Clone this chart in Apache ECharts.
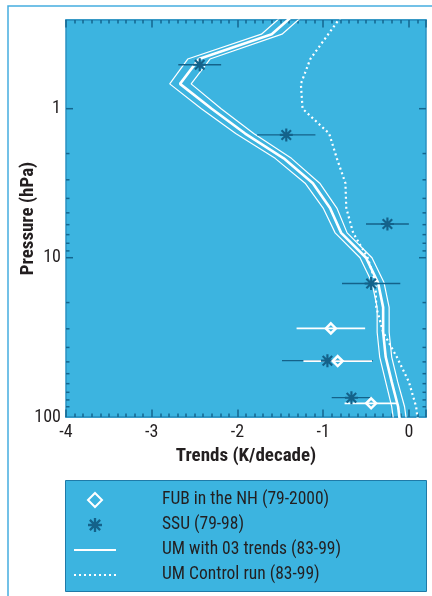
<!DOCTYPE html>
<html>
<head>
<meta charset="utf-8">
<script src="https://cdn.jsdelivr.net/npm/echarts@6/dist/echarts.min.js"></script>
<style>
  html, body { margin: 0; padding: 0; background: #ffffff; }
  #chart { width: 432px; height: 596px; }
</style>
</head>
<body>
<div id="chart"></div>
<script>
// Model pressure levels (hPa) shared by both UM runs
const umPressure = [0.2154, 0.3162, 0.4642, 0.6813, 1, 1.468, 2.154, 3.162, 4.642, 6.813, 10, 14.68, 21.54, 31.62, 46.42, 68.13, 100, 146.8];
// UM run with ozone trends: mean and its lower / upper bounds (K/decade)
const umTrend = [-1.27, -1.60, -2.45, -2.67, -2.30, -1.91, -1.46, -1.12, -0.92, -0.79, -0.50, -0.36, -0.30, -0.30, -0.27, -0.20, -0.125, -0.09];
const umLow   = [-1.39, -1.72, -2.58, -2.79, -2.42, -2.02, -1.56, -1.21, -1.00, -0.86, -0.57, -0.43, -0.37, -0.37, -0.34, -0.27, -0.20, -0.16];
const umHigh  = [-1.15, -1.48, -2.32, -2.54, -2.19, -1.81, -1.37, -1.04, -0.84, -0.72, -0.43, -0.29, -0.23, -0.23, -0.20, -0.13, -0.05, -0.01];
// UM control run (K/decade)
const controlTrend = [-0.73, -0.94, -1.15, -1.26, -1.24, -0.93, -0.84, -0.74, -0.73, -0.65, -0.48, -0.39, -0.38, -0.30, -0.14, 0.00, 0.085, 0.12];

// SSU observations (79-98)
const ssuPressure = [0.507, 1.50, 5.94, 14.9, 49.1, 87.0];
const ssuTrend    = [-2.44, -1.43, -0.25, -0.44, -0.95, -0.67];
const ssuError    = [0.25, 0.34, 0.25, 0.34, 0.53, 0.23];

// FUB analyses, northern hemisphere (79-2000)
const fubPressure = [29.8, 49.4, 94.9];
const fubTrend    = [-0.91, -0.83, -0.44];
const fubError    = [0.40, 0.40, 0.31];

// Axis ranges and ticks
const X_MIN = -4, X_MAX = 0.2;
const Y_MIN = 0.254, Y_MAX = 117.2;
const yMajorTicks = [1, 10];
const yMinorTicks = [2, 3, 4, 5, 6, 7, 8, 9, 20, 30, 40, 50, 60, 70, 80, 90, 100];
const yLabelText = { '1': '1', '10': '10' };
const yBottomLabel = '100';

const names = {
  fub: 'FUB in the NH (79-2000)',
  ssu: 'SSU (79-98)',
  um: 'UM with 03 trends (83-99)',
  ctl: 'UM Control run (83-99)'
};

const BG = '#3cb4e0';
const TICK = '#14668f';
const AXIS = '#2b92c2';
const TEXT = '#231f20';
const DARK = '#14628a';
const FONT = "'Roboto Condensed', 'Liberation Sans', sans-serif";

const asteriskPath = 'path://M0 10H24V14H0Z M10 0H14V24H10Z M1.8 4.6L4.6 1.8L22.2 19.4L19.4 22.2Z M19.4 1.8L22.2 4.6L4.6 22.2L1.8 19.4Z';
const diamondPath = 'path://M12 0L24 12L12 24L0 12Z';

const pairs = (xs, ys) => xs.map((x, i) => [x, ys[i]]);

function errorBarSeries(name, trend, err, pres, color, width, z) {
  return {
    name: name, type: 'custom', silent: true, z: z,
    xAxisIndex: 0, yAxisIndex: 0,
    encode: { x: 0, y: 1 },
    data: trend.map((t, i) => [t, pres[i], err[i]]),
    renderItem: function (params, api) {
      const t = api.value(0), p = api.value(1), e = api.value(2);
      const a = api.coord([t - e, p]);
      const b = api.coord([t + e, p]);
      return { type: 'line', shape: { x1: a[0], y1: a[1], x2: b[0], y2: b[1] },
               style: { stroke: color, lineWidth: width } };
    }
  };
}

function xAxisDef(position, interval, tickLen, labels) {
  return {
    type: 'value', position: position, min: X_MIN, max: X_MAX, interval: interval,
    axisLine: { show: true, onZero: false, lineStyle: { color: AXIS, width: 1.5 } },
    axisTick: { show: true, inside: true, length: tickLen, lineStyle: { color: TICK, width: 1.5 } },
    axisLabel: labels ? {
      show: true, color: TEXT, fontFamily: FONT, fontSize: 18, margin: 6,
      formatter: v => (Math.abs(v - Math.round(v)) < 1e-6 ? String(Math.round(v)) : '')
    } : { show: false },
    splitLine: { show: false },
    name: labels ? 'Trends (K/decade)' : '',
    nameLocation: 'middle', nameGap: 30, nameMoveOverlap: false,
    nameTextStyle: { color: TEXT, fontFamily: FONT, fontSize: 19, fontWeight: 'bold' }
  };
}

function yAxisDef(position, labels) {
  return {
    type: 'log', logBase: 10, position: position, min: Y_MIN, max: Y_MAX, inverse: true,
    axisLine: { show: true, onZero: false, lineStyle: { color: AXIS, width: 1.5 } },
    axisTick: { show: false },
    axisLabel: labels ? {
      show: true, color: TEXT, fontFamily: FONT, fontSize: 18, margin: 5,
      showMinLabel: true, showMaxLabel: true,
      formatter: function (v) {
        for (const k in yLabelText) { if (Math.abs(v - Number(k)) < 1e-6 * Number(k)) return yLabelText[k]; }
        if (v > Y_MAX * 0.99) return yBottomLabel;
        return '';
      }
    } : { show: false },
    splitLine: { show: false },
    name: labels ? 'Pressure (hPa)' : '',
    nameLocation: 'middle', nameGap: 28, nameRotate: 90, nameMoveOverlap: false,
    nameTextStyle: { color: TEXT, fontFamily: FONT, fontSize: 19, fontWeight: 'bold' }
  };
}

const yTickData = yMajorTicks.map(p => [X_MIN, p, 7]).concat(yMinorTicks.map(p => [X_MIN, p, 3.5]));

const chart = echarts.init(document.getElementById('chart'), null, { renderer: 'canvas' });

chart.setOption({
  animation: false,
  backgroundColor: '#ffffff',
  grid: { left: 66, right: 6, top: 20, bottom: 179, show: true, backgroundColor: BG, borderWidth: 0, containLabel: false },
  xAxis: [
    xAxisDef('bottom', 1, 7.5, true),
    xAxisDef('bottom', 0.1, 3.5, false),
    xAxisDef('top', 1, 7.5, false),
    xAxisDef('top', 0.1, 3.5, false)
  ],
  yAxis: [
    yAxisDef('left', true),
    yAxisDef('right', false)
  ],
  graphic: [
    { type: 'rect', z: -10, silent: true, shape: { x: 8, y: 6, width: 520, height: 700 },
      style: { fill: 'none', stroke: '#45ade0', lineWidth: 1.5 } },
    { type: 'rect', z: -5, silent: true, shape: { x: 65.5, y: 480.5, width: 361, height: 111 },
      style: { fill: BG, stroke: '#1f7aa8', lineWidth: 1 } }
  ],
  legend: {
    orient: 'vertical', left: 73, top: 490, padding: 0,
    itemWidth: 42, itemHeight: 14, itemGap: 5,
    selectedMode: false,
    data: [
      { name: names.fub },
      { name: names.ssu },
      { name: names.um, itemStyle: { opacity: 0 } },
      { name: names.ctl, itemStyle: { opacity: 0 } }
    ],
    textStyle: { color: TEXT, fontFamily: FONT, fontSize: 17.5, lineHeight: 20, padding: [0, 0, 0, 41] }
  },
  series: [
    // tick marks of the pressure axis, drawn on both sides of the plot
    {
      name: 'yTicks', type: 'custom', silent: true, z: 1,
      xAxisIndex: 0, yAxisIndex: 0, encode: { x: 0, y: 1 },
      data: yTickData,
      renderItem: function (params, api) {
        const p = api.value(1), len = api.value(2);
        const a = api.coord([X_MIN, p]);
        const b = api.coord([X_MAX, p]);
        const st = { stroke: TICK, lineWidth: 1.5 };
        return { type: 'group', children: [
          { type: 'line', shape: { x1: a[0], y1: a[1], x2: a[0] + len, y2: a[1] }, style: st },
          { type: 'line', shape: { x1: b[0] - len, y1: b[1], x2: b[0], y2: b[1] }, style: st }
        ] };
      }
    },
    {
      name: 'umLow', type: 'line', z: 2, data: pairs(umLow, umPressure),
      symbol: 'none', silent: true, lineStyle: { color: '#ffffff', width: 1.2 }
    },
    {
      name: 'umHigh', type: 'line', z: 2, data: pairs(umHigh, umPressure),
      symbol: 'none', silent: true, lineStyle: { color: '#ffffff', width: 1.2 }
    },
    {
      name: names.um, type: 'line', z: 2, data: pairs(umTrend, umPressure),
      symbol: 'none', silent: true, itemStyle: { color: '#ffffff' },
      lineStyle: { color: '#ffffff', width: 2.6 }
    },
    {
      name: names.ctl, type: 'line', z: 2, data: pairs(controlTrend, umPressure),
      symbol: 'none', silent: true, itemStyle: { color: '#ffffff' },
      lineStyle: { color: '#ffffff', width: 2.2, type: [2, 3] }
    },
    errorBarSeries('ssuErr', ssuTrend, ssuError, ssuPressure, DARK, 1.3, 3),
    errorBarSeries('fubErr', fubTrend, fubError, fubPressure, '#ffffff', 1.6, 4),
    {
      name: names.ssu, type: 'scatter', z: 5, data: pairs(ssuTrend, ssuPressure),
      symbol: asteriskPath, symbolSize: 13, silent: true,
      itemStyle: { color: DARK, borderWidth: 0, opacity: 1 }
    },
    {
      name: names.fub, type: 'scatter', z: 6, data: pairs(fubTrend, fubPressure),
      symbol: diamondPath, symbolSize: 10, silent: true,
      itemStyle: { color: 'rgba(0,0,0,0)', borderColor: '#ffffff', borderWidth: 2.5, opacity: 1 }
    }
  ]
});
</script>
</body>
</html>
